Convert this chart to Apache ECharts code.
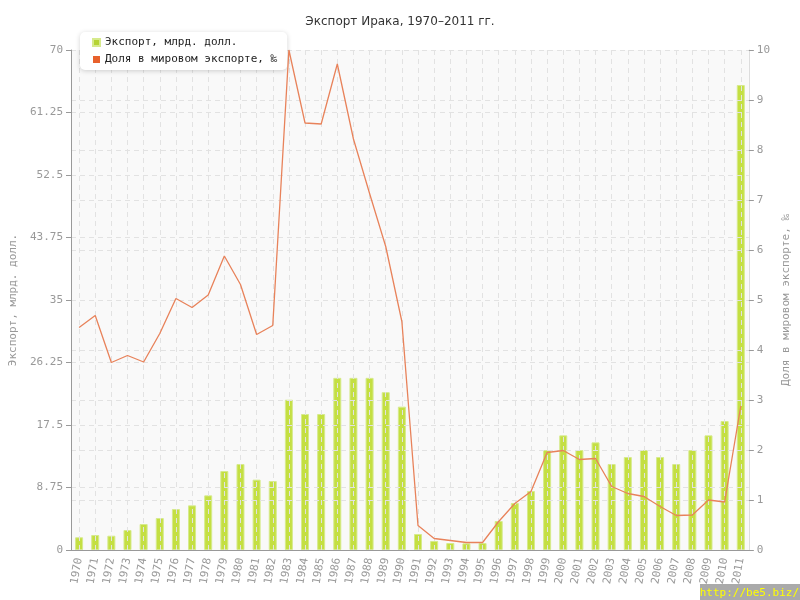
<!DOCTYPE html>
<html><head><meta charset="utf-8">
<script src="https://cdn.jsdelivr.net/npm/echarts@6/dist/echarts.min.js"></script>
<style>html,body{margin:0;padding:0;background:#fff}#c{width:800px;height:600px}</style>
</head><body><div id="c"></div>
<script>
const years = ['1970','1971','1972','1973','1974','1975','1976','1977','1978','1979','1980','1981','1982','1983','1984','1985','1986','1987','1988','1989','1990','1991','1992','1993','1994','1995','1996','1997','1998','1999','2000','2001','2002','2003','2004','2005','2006','2007','2008','2009','2010','2011'];
const exportBn = [1.78,2.1,2.0,2.8,3.64,4.48,5.74,6.25,7.65,11.06,12.04,9.85,9.66,21.04,19.04,19.04,24.1,24.1,24.1,22.1,20.07,2.24,1.26,0.98,0.93,0.98,4.06,6.58,8.26,14.0,16.05,14.0,15.07,12.04,13.02,14.0,13.02,12.04,14.0,16.05,18.06,65.1];
const sharePermille = [4.45,4.69,3.75,3.89,3.76,4.33,5.03,4.85,5.10,5.88,5.31,4.31,4.49,10.0,8.54,8.52,9.72,8.22,7.13,6.07,4.57,0.49,0.23,0.19,0.15,0.15,0.57,0.93,1.17,1.95,1.99,1.81,1.83,1.27,1.13,1.07,0.87,0.69,0.70,1.00,0.96,2.88];
const leftTicks = {min:0, max:70, interval:8.75};
const rightTicks = {min:0, max:10, interval:1};
const names = {title:'Экспорт Ирака, 1970–2011 гг.', s1:'Экспорт, млрд. долл.', s2:'Доля в мировом экспорте, ‰'};

const mono = 'DejaVu Sans Mono';
const chart = echarts.init(document.getElementById('c'));
const split = {show:true, lineStyle:{color:'#e2e2e2', type:[5,4], width:1}};
chart.setOption({
  animation:false,
  backgroundColor:'#fff',
  title:{text:names.title, left:'center', top:11, textStyle:{fontFamily:'DejaVu Sans', fontSize:12, fontWeight:'normal', color:'#333'}},
  legend:{orient:'vertical', left:80, top:32, backgroundColor:'#fff', borderRadius:5, shadowBlur:5, shadowColor:'rgba(0,0,0,0.18)', shadowOffsetY:1,
    padding:[5,10,5,12], itemWidth:7, itemHeight:7, itemGap:6,
    textStyle:{fontFamily:mono, fontSize:11, color:'#222'},
    data:[{name:names.s1, icon:'rect', itemStyle:{color:'#b5d334'}},{name:names.s2, icon:'rect', itemStyle:{color:'#e8612c'}}]},
  grid:{left:71, right:50, top:50, bottom:50, show:true, backgroundColor:'#f9f9f9', borderWidth:0},
  xAxis:{type:'category', data:years, boundaryGap:true, z:3,
    axisLine:{lineStyle:{color:'#999'}},
    axisTick:{alignWithLabel:true, length:5, lineStyle:{color:'#999'}},
    splitLine:Object.assign({alignWithLabel:true}, split),
    axisLabel:{rotate:80, interval:0, fontFamily:mono, fontSize:11, color:'#999', margin:8}},
  yAxis:[
    {type:'value', min:leftTicks.min, max:leftTicks.max, interval:leftTicks.interval, z:3,
      name:names.s1, nameLocation:'middle', nameRotate:90, nameGap:47,
      nameTextStyle:{fontFamily:mono, fontSize:11, color:'#999'},
      axisLine:{show:true, lineStyle:{color:'#999'}},
      axisTick:{show:true, length:5, lineStyle:{color:'#999'}},
      axisLabel:{fontFamily:mono, fontSize:11, color:'#999', margin:8},
      splitLine:split},
    {type:'value', min:rightTicks.min, max:rightTicks.max, interval:rightTicks.interval, z:3, position:'right',
      name:names.s2, nameLocation:'middle', nameRotate:90, nameGap:24,
      nameTextStyle:{fontFamily:mono, fontSize:11, color:'#999'},
      axisLine:{show:true, lineStyle:{color:'#ddd'}},
      axisTick:{show:true, length:5, lineStyle:{color:'#999'}},
      axisLabel:{fontFamily:mono, fontSize:11, color:'#999', margin:8},
      splitLine:split}
  ],
  series:[
    {name:names.s1, type:'bar', yAxisIndex:0, data:exportBn, barWidth:8, z:2,
      itemStyle:{color:'#c4df42', borderColor:'#d6ea8c', borderWidth:1}},
    {name:names.s2, type:'line', yAxisIndex:1, data:sharePermille, z:5, symbol:'none',
      lineStyle:{color:'#e8825a', width:1.3}, itemStyle:{color:'#e8612c'}}
  ],
  graphic:[
    {type:'rect', right:0, bottom:0, shape:{width:100, height:16}, style:{fill:'#aaa'}, z:10},
    {type:'text', right:1, bottom:1, style:{text:'http://be5.biz/', fill:'#ffff00', font:'11px "DejaVu Sans Mono"'}, z:11}
  ]
});
</script></body></html>
